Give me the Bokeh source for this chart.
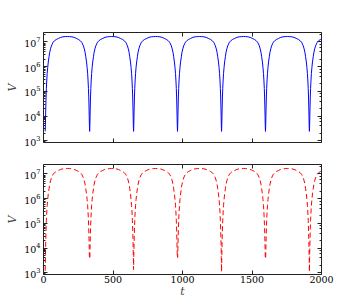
from bokeh.plotting import figure
from bokeh.layouts import column
from bokeh.models import Range1d, LogAxis, LinearAxis, FixedTicker, ColumnDataSource, CustomJSTickFormatter
from bokeh.embed import file_html
from bokeh.resources import INLINE

# ---- data ----
t_minima = [12, 332, 648, 964, 1281, 1597, 1913, 2229]
peak_V = 1.65e7
top_dip_V = [2.4e3, 2.4e3, 2.4e3, 2.4e3, 2.4e3, 2.4e3, 2.4e3, 2.4e3]
bottom_dip_V = [1.2e3, 4.7e3, 1.36e3, 4.7e3, 1.1e3, 4.7e3, 1.1e3, 4.7e3]
# one half-arch: fraction of cycle from a minimum -> log10(V / peak)
arch_frac = [0.005, 0.009, 0.014, 0.02, 0.027, 0.035, 0.045, 0.057, 0.07, 0.087,
             0.10, 0.12, 0.14, 0.16, 0.18, 0.21, 0.25, 0.30, 0.35, 0.40, 0.45, 0.50]
arch_logratio = [-3.6, -3.25, -2.85, -2.45, -2.1, -1.8, -1.5, -1.25, -1.03, -0.82,
                 -0.66, -0.5, -0.38, -0.3, -0.23, -0.17, -0.12, -0.075, -0.035, -0.012, -0.003, 0.0]
x_ticks = [0, 500, 1000, 1500, 2000]
y_lo, y_hi = 850, 2.4e7


def build(dips):
    ts, vs = [], []
    for k in range(len(t_minima) - 1):
        a, b = t_minima[k], t_minima[k + 1]
        ts.append(a); vs.append(dips[k])
        for f, lr in zip(arch_frac, arch_logratio):
            ts.append(a + f * (b - a)); vs.append(peak_V * 10 ** lr)
        for f, lr in zip(reversed(arch_frac[:-1]), reversed(arch_logratio[:-1])):
            ts.append(b - f * (b - a)); vs.append(peak_V * 10 ** lr)
    ts.append(t_minima[-1]); vs.append(dips[-1])
    return ColumnDataSource(dict(t=ts, V=vs))


FONT = "DejaVu Serif"
BLANK = CustomJSTickFormatter(code="return ''")


def make_fig(show_xlabels, top_border, bottom_border):
    p = figure(output_backend="svg", toolbar_location=None,
               y_axis_type="log", x_range=Range1d(0, 2000), y_range=Range1d(y_lo, y_hi),
               frame_width=278, frame_height=110,
               min_border_left=43, min_border_right=18,
               min_border_top=top_border, min_border_bottom=bottom_border,
               background_fill_color="white", border_fill_color="white")
    p.grid.visible = False
    p.outline_line_color = "#222222"
    p.outline_line_width = 1
    p.add_layout(LogAxis(formatter=BLANK, major_label_standoff=0), "right")
    p.add_layout(LinearAxis(formatter=BLANK, major_label_standoff=0), "above")
    for ax in p.xaxis + p.yaxis:
        ax.axis_line_color = None
        ax.major_tick_in = 4
        ax.major_tick_out = 0
        ax.minor_tick_in = 2
        ax.minor_tick_out = 0
        ax.major_tick_line_color = "#222222"
        ax.minor_tick_line_color = "#222222"
        ax.major_label_text_font = FONT
        ax.major_label_text_font_size = "9.5px"
        ax.major_label_text_color = "black"
    for ax in p.xaxis:
        ax.ticker = FixedTicker(ticks=x_ticks)
        ax.minor_tick_in = 0
    p.left[0].major_label_standoff = 3
    if show_xlabels:
        p.below[0].major_label_standoff = 1
    else:
        p.below[0].formatter = BLANK
        p.below[0].major_label_standoff = 0
    p.left[0].axis_label = "V"
    p.left[0].axis_label_text_font = FONT
    p.left[0].axis_label_text_font_style = "italic"
    p.left[0].axis_label_text_font_size = "11px"
    p.left[0].axis_label_standoff = 2
    return p


p1 = make_fig(False, 32, 11)
p1.line("t", "V", source=build(top_dip_V), line_color="#0000ff", line_width=1)

p2 = make_fig(True, 11, 14)
p2.line("t", "V", source=build(bottom_dip_V), line_color="#ff0000", line_width=1,
        line_dash="5 3")
p2.below[0].axis_label = "t"
p2.below[0].axis_label_text_font = FONT
p2.below[0].axis_label_text_font_style = "italic"
p2.below[0].axis_label_text_font_size = "11px"
p2.below[0].axis_label_standoff = -1

layout = column(p1, p2, spacing=0)
open("out.html", "w").write(file_html(layout, INLINE))
